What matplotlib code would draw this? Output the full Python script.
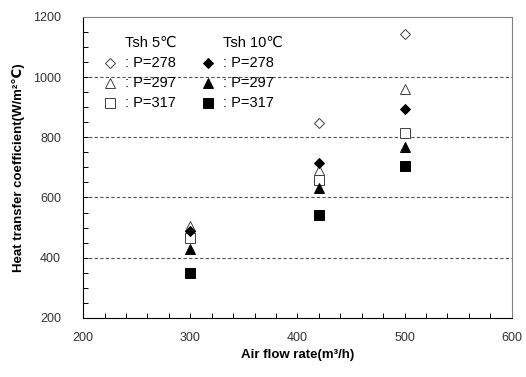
import matplotlib
matplotlib.use("Agg")
import matplotlib.pyplot as plt
from matplotlib.ticker import MultipleLocator

# air flow rate (m3/h)
flow = [300, 420, 500]

# Tsh 5C (open markers)
h5_p278 = [480, 847, 1143]
h5_p297 = [505, 692, 960]
h5_p317 = [465, 658, 814]
# Tsh 10C (filled markers)
h10_p278 = [487, 714, 893]
h10_p297 = [428, 631, 769]
h10_p317 = [349, 542, 703]

series = [
    (h5_p278, 'D', 'white', 5.5),
    (h5_p297, '^', 'white', 7),
    (h5_p317, 's', 'white', 6.5),
    (h10_p278, 'D', 'black', 5.5),
    (h10_p297, '^', 'black', 7),
    (h10_p317, 's', 'black', 6.5),
]
labels = [': P=278', ': P=297', ': P=317']

plt.rcParams['font.family'] = ['Liberation Sans', 'DejaVu Sans']
fig = plt.figure(figsize=(5.26, 3.77), dpi=100)
ax = fig.add_axes([0.158, 0.157, 0.815, 0.798])

for vals, m, fc, ms in series:
    ec = '#404040' if fc == 'white' else 'black'
    ax.plot(flow, vals, linestyle='none', marker=m, markersize=ms,
            markerfacecolor=fc, markeredgecolor=ec, markeredgewidth=0.7)

ax.set_xlim(200, 600)
ax.set_ylim(200, 1200)
ax.xaxis.set_major_locator(MultipleLocator(100))
ax.xaxis.set_minor_locator(MultipleLocator(20))
ax.yaxis.set_major_locator(MultipleLocator(200))
ax.yaxis.set_minor_locator(MultipleLocator(50))
ax.tick_params(which='both', direction='in', length=3.5, width=0.7,
               top=False, right=False, colors='black')
ax.tick_params(axis='x', which='major', pad=10, labelsize=9, labelcolor='#333333')
ax.tick_params(axis='y', which='major', pad=16, labelsize=9, labelcolor='#333333')

for y in [400, 600, 800, 1000]:
    ax.axhline(y, color='#555555', linestyle=(0, (3, 2)), linewidth=0.8, zorder=0)

ax.spines['left'].set_color('black')
ax.spines['bottom'].set_color('black')
ax.spines['top'].set_color('#808080')
ax.spines['right'].set_color('#808080')

ax.set_xlabel('Air flow rate(m\u00b3/h)', fontsize=9.5, fontweight='bold', labelpad=4)
ax.set_ylabel('Heat transfer coefficient(W/m\u00b2\u2103)', fontsize=9.5,
              fontweight='bold', labelpad=6,
              family=['Liberation Sans', 'DejaVu Sans'])

# legend block drawn by hand
tr = ax.transAxes
lfont = dict(fontsize=10.5, family=['Liberation Sans', 'DejaVu Sans'],
             va='center', transform=tr)
ax.text(0.098, 0.915, 'Tsh 5\u2103', **lfont)
ax.text(0.327, 0.915, 'Tsh 10\u2103', **lfont)
rows = [0.846, 0.780, 0.714]
for i, (vals, m, fc, ms) in enumerate(series):
    col = i // 3
    row = rows[i % 3]
    mx = 0.062 if col == 0 else 0.292
    ec = '#404040' if fc == 'white' else 'black'
    ax.plot([mx], [row], transform=tr, linestyle='none', marker=m, markersize=ms,
            markerfacecolor=fc, markeredgecolor=ec, markeredgewidth=0.7, clip_on=False)
    ax.text(mx + 0.035, row, labels[i % 3], **lfont)

fig.savefig('out.png', dpi=100)
